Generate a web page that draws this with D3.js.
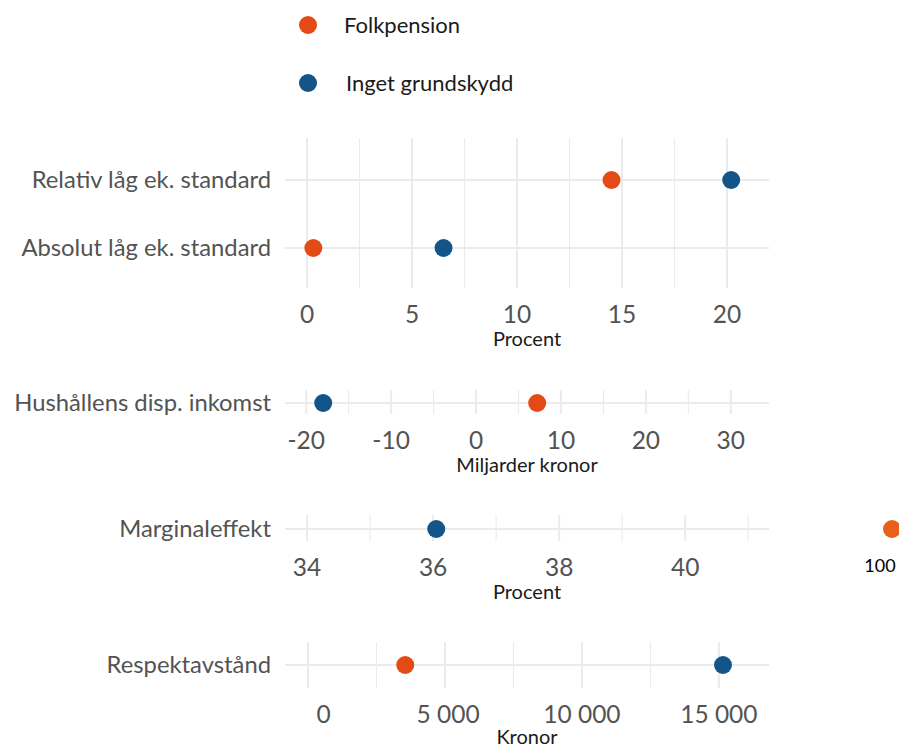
<!DOCTYPE html>
<html>
<head>
<meta charset="utf-8">
<script src="https://cdn.jsdelivr.net/npm/d3@7"></script>
<style>
  body { margin: 0; background: #fff; }
  text { font-family: Lato, "Open Sans", sans-serif; }
</style>
</head>
<body>
<script>
(function(){

  //data
  var seriesNames = ["Folkpension", "Inget grundskydd"];
  var indicators = ["Relativ låg ek. standard", "Absolut låg ek. standard", "Hushållens disp. inkomst", "Marginaleffekt", "Respektavstånd"];
  var folkpension = [14.5, 0.3, 7.2, 100, 3550];
  var ingetGrundskydd = [20.2, 6.5, -18, 36.05, 15150];
  var panelRows = [[0, 1], [2], [3], [4]]; //which indicators sit in which panel
  var axisTitles = ["Procent", "Miljarder kronor", "Procent", "Kronor"];
  var tickValues = [[0, 5, 10, 15, 20], [-20, -10, 0, 10, 20, 30], [34, 36, 38, 40], [0, 5000, 10000, 15000]];

  //layout (pixels) and scale limits
  var width = 899, height = 747;
  var plotLeft = 285, plotRight = 769;
  var domains = [[-1.05, 22.0], [-22.5, 34.5], [33.65, 41.33], [-840, 16830]];
  var panelBox = [[138, 288], [390, 414], [515, 541], [642, 688]]; //grid top / bottom
  var rowCentres = [[180, 248], [403], [529], [665]];
  var padLabels = [false, false, false, true]; //last axis was formatted to equal width
  var colors = ["#e34a15", "#135588"];
  var outlierColor = "#e8601b";
  var gridColor = "#ebebeb";
  var textGrey = "#535353";

  var svg = d3.select("body")
    .append("svg")
    .attr("width", width)
    .attr("height", height);

  //legend
  var legend = svg.append("g");
  seriesNames.forEach(function(name, i){
    var ly = 25 + i * 58;
    legend.append("circle")
      .attr("cx", 308).attr("cy", ly).attr("r", 9)
      .attr("fill", colors[i]);
    legend.append("text")
      .attr("x", 344 + i * 2).attr("y", ly)
      .attr("dy", "0.35em")
      .attr("font-size", 22)
      .attr("fill", "#1a1a1a")
      .text(name);
  });

  var seLocale = d3.formatLocale({decimal: ",", thousands: "\u00a0", grouping: [3], currency: ["", " kr"], minus: "-"});
  var fmt = seLocale.format(",");

  panelRows.forEach(function(rows, p){
    var x = d3.scaleLinear().domain(domains[p]).range([plotLeft, plotRight]);
    var top = panelBox[p][0], bottom = panelBox[p][1];
    var g = svg.append("g");

    //minor grid: half-way between major ticks
    var step = tickValues[p][1] - tickValues[p][0];
    var minor = d3.range(tickValues[p][0] - step / 2, domains[p][1], step)
      .filter(function(v){ return v >= domains[p][0] && v <= domains[p][1]; });

    g.selectAll(".minor")
      .data(minor)
      .enter()
      .append("line")
      .attr("x1", x).attr("x2", x)
      .attr("y1", top).attr("y2", bottom)
      .attr("stroke", gridColor)
      .attr("stroke-width", 1.1);

    g.selectAll(".major")
      .data(tickValues[p])
      .enter()
      .append("line")
      .attr("x1", x).attr("x2", x)
      .attr("y1", top).attr("y2", bottom)
      .attr("stroke", gridColor)
      .attr("stroke-width", 2);

    //horizontal grid per row
    rows.forEach(function(r, j){
      g.append("line")
        .attr("x1", plotLeft).attr("x2", plotRight)
        .attr("y1", rowCentres[p][j]).attr("y2", rowCentres[p][j])
        .attr("stroke", gridColor)
        .attr("stroke-width", 2);

      g.append("text")
        .attr("x", plotLeft - 14)
        .attr("y", rowCentres[p][j])
        .attr("dy", "0.35em")
        .attr("text-anchor", "end")
        .attr("font-size", 23.8)
        .attr("fill", textGrey)
        .text(indicators[r]);
    });

    //tick labels (the kronor axis padded to common width like R's format())
    var labels = tickValues[p].map(function(v){ return fmt(v); });
    var maxLen = d3.max(labels, function(s){ return s.length; });
    var axisY = bottom + 35;
    g.selectAll(".tick")
      .data(tickValues[p])
      .enter()
      .append("text")
      .attr("x", x)
      .attr("y", axisY)
      .attr("text-anchor", "middle")
      .attr("font-size", 24.5)
      .attr("fill", textGrey)
      .style("white-space", "pre")
      .text(function(d, i){ return padLabels[p] ? labels[i].padStart(maxLen, "\u00a0") : labels[i]; });

    g.append("text")
      .attr("x", (plotLeft + plotRight) / 2)
      .attr("y", axisY + (p === 3 ? 21 : 23))
      .attr("text-anchor", "middle")
      .attr("font-size", 20)
      .attr("fill", "#1a1a1a")
      .text(axisTitles[p]);

    //points
    [folkpension, ingetGrundskydd].forEach(function(values, s){
      rows.forEach(function(r, j){
        var v = values[r];
        var cy = rowCentres[p][j];
        if (v > domains[p][1]){ //out of range: pin beside the panel and print the value
          var ox = plotRight + 123;
          g.append("circle")
            .attr("cx", ox).attr("cy", cy).attr("r", 9)
            .attr("fill", outlierColor);
          g.append("text")
            .attr("x", ox - 12).attr("y", cy + 43)
            .attr("text-anchor", "middle")
            .attr("font-size", 18)
            .attr("fill", "#000")
            .text(v);
        } else {
          g.append("circle")
            .attr("cx", x(v)).attr("cy", cy).attr("r", 9)
            .attr("fill", colors[s]);
        }
      });
    });
  });
})();
</script>
</body>
</html>
